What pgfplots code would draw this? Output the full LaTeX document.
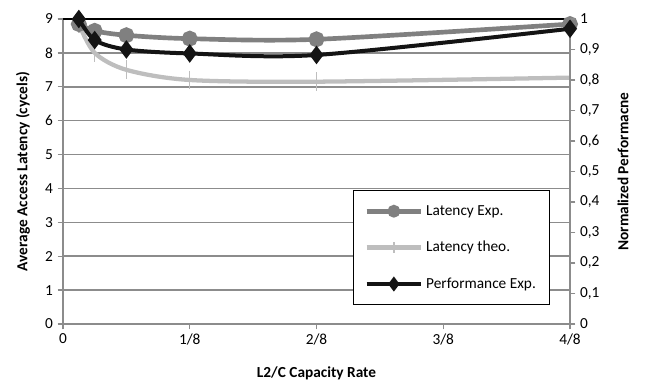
\documentclass[border=0pt]{standalone}
\usepackage{fontspec}
\setmainfont{Carlito}
\usepackage{pgfplots}
\pgfplotsset{compat=1.18}
\definecolor{latexp}{HTML}{808080}
\definecolor{lattheo}{HTML}{BEBEBE}
\definecolor{perf}{HTML}{141414}
\definecolor{gridc}{HTML}{8C8C8C}
\newcommand\lblfont{\fontsize{11.5}{13}\selectfont\bfseries}
\pgfplotsset{
  common/.style={
    scale only axis, width=380.25pt, height=228.75pt,
    xmin=0, xmax=0.5,
    tick align=outside,
    major tick length=4pt,
    tick style={gridc, line width=1pt},
    axis line style={gridc, line width=1.5pt},
    tick label style={font=\fontsize{11.5}{13}\selectfont},
    /pgf/number format/assume math mode=true,
    clip=false,
  }
}
\begin{document}
\begin{tikzpicture}
\begin{axis}[common, name=main,
  ymin=0, ymax=9,
  axis x line*=bottom, axis y line*=left,
  xtick={0,0.125,0.25,0.375,0.5},
  xticklabels={0,1/8,2/8,3/8,4/8},
  ytick={0,1,...,9},
  ymajorgrids, grid style={gridc, line width=1.1pt},
  extra y ticks={9}, extra y tick labels={},
  extra y tick style={grid style={black, line width=0.8pt}},
  xlabel={L2/C Capacity Rate},
  ylabel={Average Access Latency (cycels)},
  every axis x label/.style={at={(axis description cs:0.5,0)}, yshift=-36.75pt, anchor=center, font=\lblfont},
  every axis y label/.style={at={(axis description cs:0,0.5)}, xshift=-30pt, rotate=90, anchor=center, font=\lblfont},
]
\addplot[lattheo, line width=3.2pt, smooth, tension=0.5, mark=|, mark size=7pt, mark options={line width=1pt, lattheo}]
  coordinates {(0.015625,8.85)(0.03125,8.0)(0.0625,7.5)(0.125,7.2)(0.25,7.15)(0.5,7.27)};
\addplot[latexp, line width=3.5pt, smooth, tension=0.5, mark=*, mark size=4.2pt, mark options={solid, fill=latexp}]
  coordinates {(0.015625,8.85)(0.03125,8.65)(0.0625,8.52)(0.125,8.42)(0.25,8.4)(0.5,8.85)};
\end{axis}
\begin{axis}[common, at={(main.south west)}, anchor=south west,
  ymin=0, ymax=1,
  axis x line=none, axis y line*=right,
  ytick={0,0.1,0.2,0.3,0.4,0.5,0.6,0.7,0.8,0.9,1},
  yticklabels={0,{0,1},{0,2},{0,3},{0,4},{0,5},{0,6},{0,7},{0,8},{0,9},1},
  ylabel={Normalized Performacne},
  every axis y label/.style={at={(axis description cs:1,0.5)}, xshift=39.75pt, rotate=90, anchor=center, font=\lblfont},
  legend style={at={(rel axis cs:0.572,0.439)}, anchor=north west, draw=black, line width=0.8pt, fill=white,
    font=\fontsize{11.5}{13}\selectfont, inner xsep=8pt, inner ysep=9pt, row sep=14pt},
  legend cell align=left,
  legend image code/.code={\draw[mark repeat=2, mark phase=2, #1] plot coordinates {(0pt,0pt)(20.5pt,0pt)(41pt,0pt)};},
]
\addlegendimage{latexp, line width=3.5pt, mark=*, mark size=3pt, mark options={solid, fill=latexp}}
\addlegendentry{Latency Exp.}
\addlegendimage{lattheo, line width=3.2pt, mark=|, mark size=4pt, mark options={line width=1pt, lattheo}}
\addlegendentry{Latency theo.}
\addlegendimage{perf, line width=3pt, mark=diamond*, mark size=3.2pt, mark options={solid, fill=perf}}
\addlegendentry{Performance Exp.}
\addplot[perf, line width=3pt, smooth, tension=0.5, mark=diamond*, mark size=4.5pt, mark options={solid, fill=perf}, forget plot]
  coordinates {(0.015625,1.0)(0.03125,0.931)(0.0625,0.9)(0.125,0.887)(0.25,0.882)(0.5,0.968)};
\end{axis}
\pgfresetboundingbox
\path ([shift={(-47.25pt,-42pt)}]main.south west) rectangle ([shift={(60pt,14.25pt)}]main.north east);
\end{tikzpicture}
\end{document}
